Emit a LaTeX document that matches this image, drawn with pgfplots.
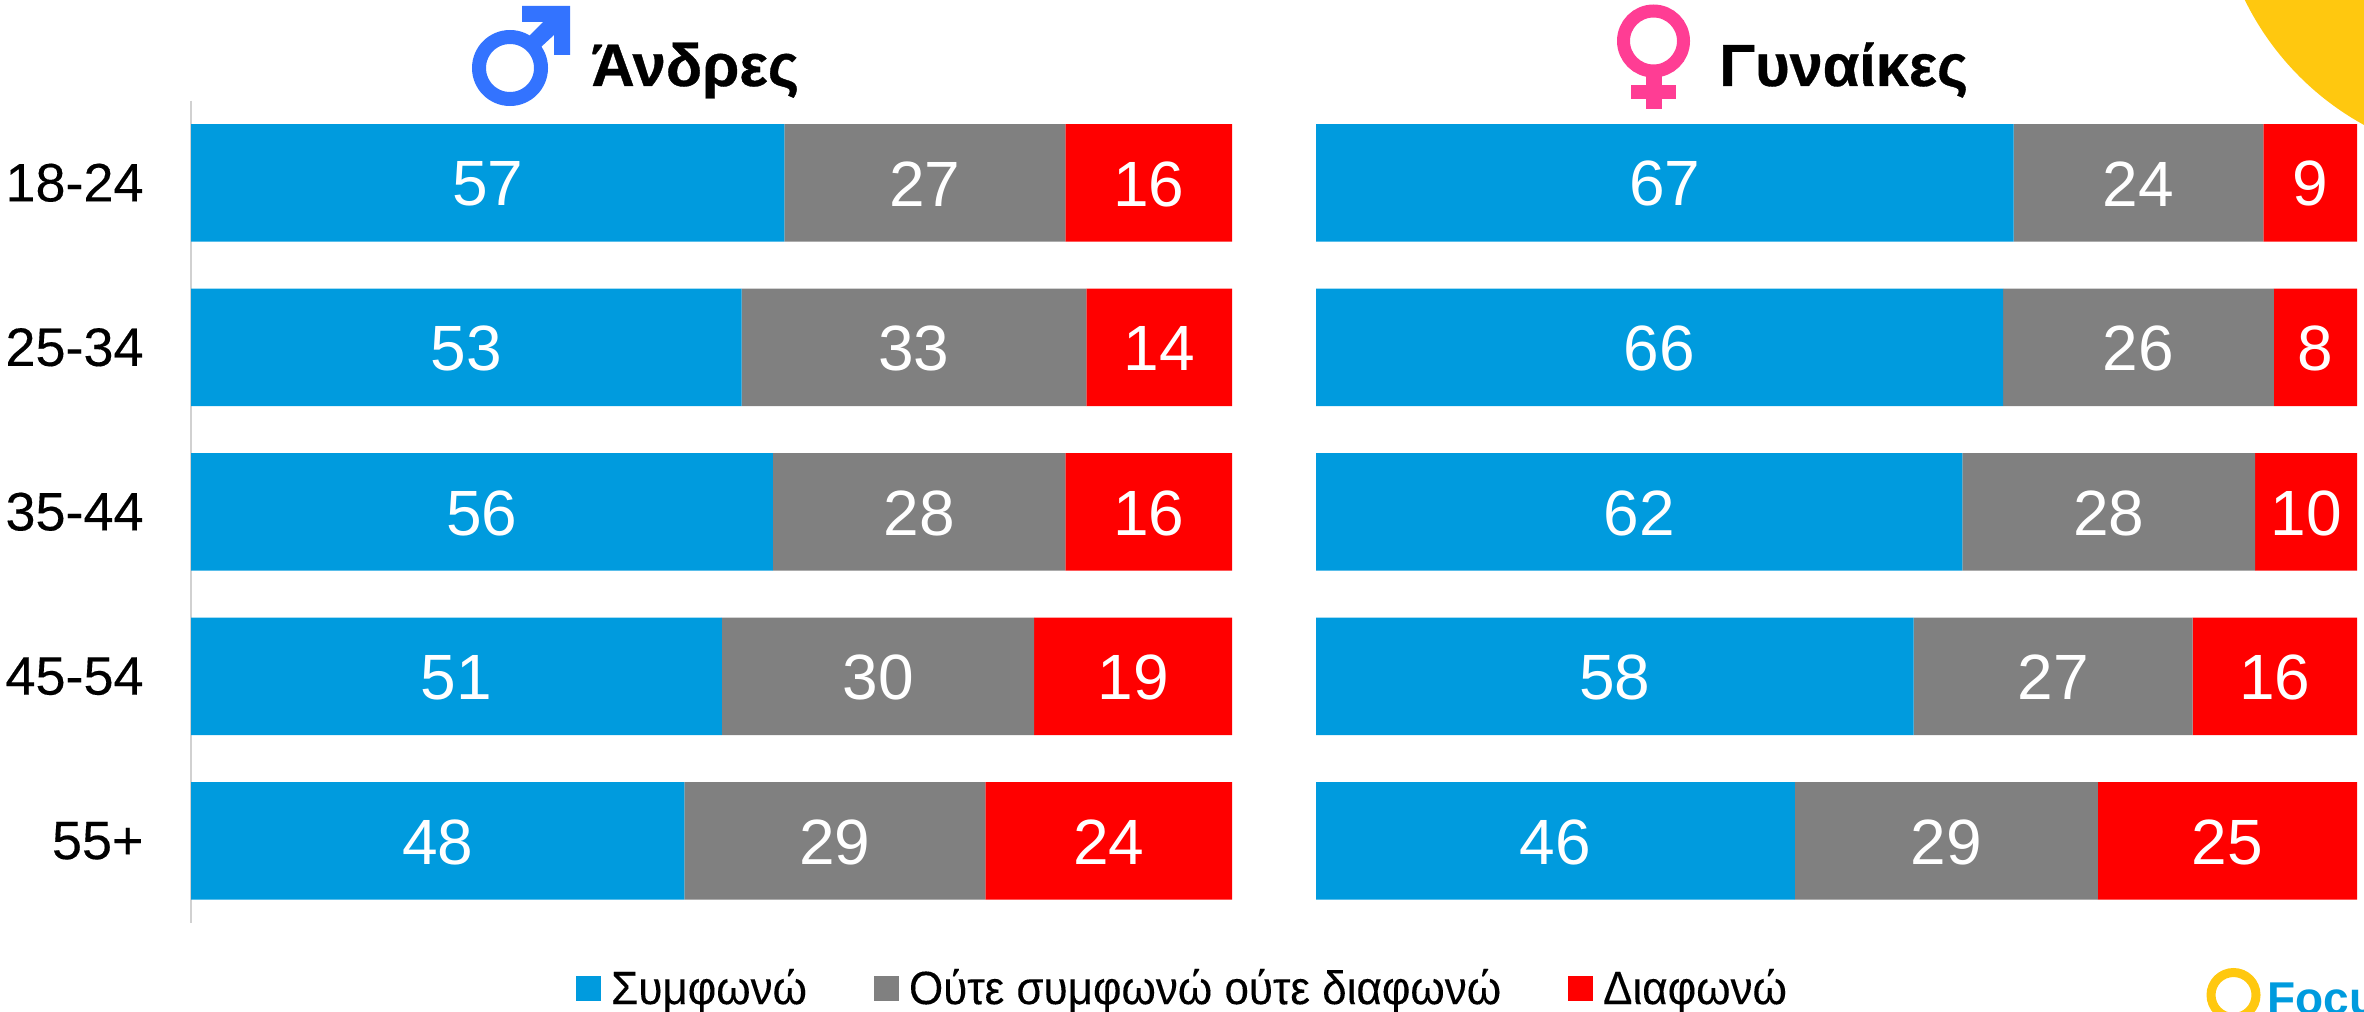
\documentclass[border=0pt]{standalone}
\usepackage{pgfplots}
\pgfplotsset{compat=1.18}
\usepackage{pgfplotstable}
\usepackage{fontspec}
\setmainfont{Liberation Sans}
\newfontfamily\titlefont[BoldFeatures={FakeBold=0.6}]{Liberation Sans}
\newfontfamily\tickfont[FakeBold=0.25]{Liberation Sans}
\newfontfamily\legfont[FakeStretch=0.94,FakeBold=0.15]{Liberation Sans}
\definecolor{cblue}{HTML}{009BDE}
\definecolor{cgrey}{HTML}{808080}
\definecolor{cred}{HTML}{FF0000}
\definecolor{cmale}{HTML}{3373FF}
\definecolor{cfem}{HTML}{FF3D94}
\definecolor{csun}{HTML}{FFC80F}
\pgfplotstableread{
y a la b lb c lc
0 57.0 57 27.0 27 16.0 16
1 52.9 53 33.1 33 14.0 14
2 55.9 56 28.1 28 16.0 16
3 51.0 51 30.0 30 19.0 19
4 47.4 48 28.9 29 23.7 24
}\men
\pgfplotstableread{
y a la b lb c lc
0 67.0 67 24.0 24 9.0 9
1 66.0 66 26.0 26 8.0 8
2 62.1 62 28.1 28 9.8 10
3 57.4 58 26.8 27 15.8 16
4 46.0 46 29.1 29 24.9 25
}\women
\pgfplotsset{
  panel/.style={
    xbar stacked, scale only axis, width=520.5pt, height=411.25pt,
    bar width=58.75pt, xmin=0, xmax=100, ymin=-0.5, ymax=4.5, y dir=reverse,
    axis x line=none, clip=false,
    point meta=explicit symbolic,
    nodes near coords,
    every node near coord/.append style={anchor=center, text=white, inner sep=0pt, yshift=-0.6pt,
      font=\fontsize{32}{34}\selectfont},
  },
  ser/.style={fill=#1, draw=none},
}
\newcommand{\series}[4]{%
  \addplot+[ser=#3] table[x=#2,y=y,meta=#4] {#1};
}
\begin{document}
\begin{tikzpicture}[x=0.5pt,y=-0.5pt]
\clip (0,0) rectangle (2364,1011);
\fill[csun] (2501,-125) circle (285);
\begin{axis}[panel, at={(95.5pt,-461.5pt)}, anchor=south west,
  axis y line=left, axis line style={draw=black!18, line width=1pt, -},
  ytick={0,1,2,3,4}, yticklabels={18-24,25-34,35-44,45-54,55+},
  major tick length=0pt, yticklabel style={font=\tickfont\fontsize{27}{30}\selectfont, anchor=east, xshift=-23.5pt, text=black, inner sep=0pt},
  legend style={at={(0.37,-0.079)}, anchor=west, draw=none, fill=none, inner sep=0pt, outer sep=0pt,
    legend columns=3, font=\legfont\fontsize{23.4}{26}\selectfont,
    nodes={inner sep=0pt, anchor=west},
    /tikz/every even column/.append style={column sep=33.5pt},
    /tikz/every odd column/.append style={column sep=5pt}},
  legend cell align=left,
  legend image code/.code={\fill[#1] (0pt,-6.25pt) rectangle (12.5pt,6.25pt);},
]
\series{\men}{a}{cblue}{la}
\series{\men}{b}{cgrey}{lb}
\series{\men}{c}{cred}{lc}
\legend{Συμφωνώ,Ούτε συμφωνώ ούτε διαφωνώ,Διαφωνώ}
\end{axis}
\begin{axis}[panel, at={(658pt,-461.5pt)}, anchor=south west, axis y line=none]
\series{\women}{a}{cblue}{la}
\series{\women}{b}{cgrey}{lb}
\series{\women}{c}{cred}{lc}
\end{axis}
% titles
\node[anchor=base west, inner sep=0pt, font=\titlefont\fontsize{30}{32}\selectfont\bfseries] at (591,86) {Άνδρες};
\node[anchor=base west, inner sep=0pt, font=\titlefont\fontsize{29.7}{32}\selectfont\bfseries] at (1719,86) {Γυναίκες};
% male icon
\draw[cmale, line width=7pt] (510,68) circle (31);
\fill[cmale] (522,6) -- (570,6) -- (570,55) -- (554,55) -- (554,35) -- (541,47) -- (529,36) -- (543,22) -- (522,22) -- cycle;
% female icon
\draw[cfem, line width=6.5pt] (1653.5,41) circle (30);
\fill[cfem] (1645.5,75) rectangle (1661.5,109);
\fill[cfem] (1631,85) rectangle (1676,99);
% logo
\draw[csun, line width=4.5pt] (2233.5,995) circle (22.5);
\node[anchor=base west, inner sep=0pt, text=cblue, font=\fontsize{23}{25}\selectfont\bfseries] at (2267,1014) {Focus};
\end{tikzpicture}
\end{document}
